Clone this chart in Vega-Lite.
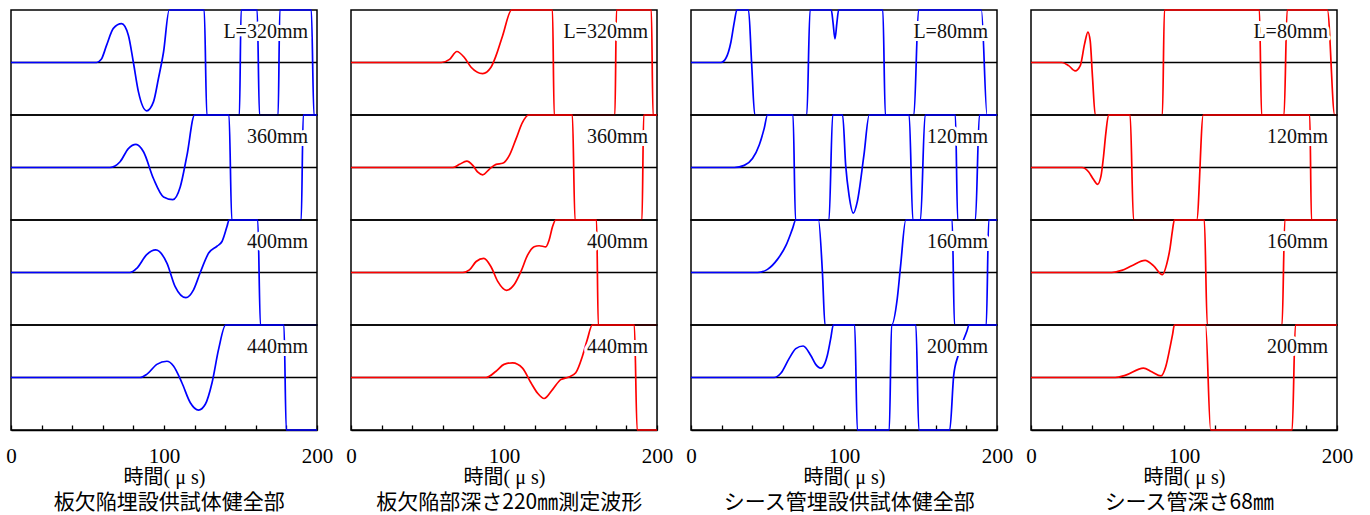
{
"$schema": "https://vega.github.io/schema/vega-lite/v6.json",
"background": "white",
"padding": {"left": 5, "top": 8, "right": 5, "bottom": 5},
"data": {"name": "w"},
"datasets": {"w": [
{"p":1,"b":1,"label":"L=320mm"},{"p":1,"b":2,"label":"360mm"},{"p":1,"b":3,"label":"400mm"},{"p":1,"b":4,"label":"440mm"},
{"p":2,"b":1,"label":"L=320mm"},{"p":2,"b":2,"label":"360mm"},{"p":2,"b":3,"label":"400mm"},{"p":2,"b":4,"label":"440mm"},
{"p":3,"b":1,"label":"L=80mm"},{"p":3,"b":2,"label":"120mm"},{"p":3,"b":3,"label":"160mm"},{"p":3,"b":4,"label":"200mm"},
{"p":4,"b":1,"label":"L=80mm"},{"p":4,"b":2,"label":"120mm"},{"p":4,"b":3,"label":"160mm"},{"p":4,"b":4,"label":"200mm"},
{"p":1,"b":1,"t":0,"v":0},{"p":1,"b":1,"t":56,"v":0},{"p":1,"b":1,"t":59,"v":0.06},{"p":1,"b":1,"t":62.5,"v":0.33},{"p":1,"b":1,"t":66.9,"v":0.65},{"p":1,"b":1,"t":72.3,"v":0.74},{"p":1,"b":1,"t":76.7,"v":0.52},{"p":1,"b":1,"t":80,"v":0},{"p":1,"b":1,"t":83.3,"v":-0.56},{"p":1,"b":1,"t":88.7,"v":-0.92},{"p":1,"b":1,"t":93.1,"v":-0.75},{"p":1,"b":1,"t":96.4,"v":-0.3},{"p":1,"b":1,"t":99.7,"v":0.2},{"p":1,"b":1,"t":103.4,"v":1},{"p":1,"b":1,"t":126.3,"v":1},{"p":1,"b":1,"t":128,"v":-1},{"p":1,"b":1,"t":149.3,"v":-1},{"p":1,"b":1,"t":150.4,"v":1},{"p":1,"b":1,"t":160.9,"v":1},{"p":1,"b":1,"t":162.4,"v":-1},{"p":1,"b":1,"t":174.6,"v":-1},{"p":1,"b":1,"t":175.7,"v":1},{"p":1,"b":1,"t":196.3,"v":1},{"p":1,"b":1,"t":198,"v":-1},{"p":1,"b":1,"t":200,"v":-1},
{"p":1,"b":2,"t":0,"v":0},{"p":1,"b":2,"t":64.7,"v":0},{"p":1,"b":2,"t":68,"v":0.03},{"p":1,"b":2,"t":71.3,"v":0.11},{"p":1,"b":2,"t":76.7,"v":0.36},{"p":1,"b":2,"t":81.7,"v":0.44},{"p":1,"b":2,"t":86.6,"v":0.3},{"p":1,"b":2,"t":93.1,"v":-0.21},{"p":1,"b":2,"t":99.7,"v":-0.56},{"p":1,"b":2,"t":105.8,"v":-0.61},{"p":1,"b":2,"t":110.6,"v":-0.37},{"p":1,"b":2,"t":115,"v":0.23},{"p":1,"b":2,"t":120,"v":1},{"p":1,"b":2,"t":142.5,"v":1},{"p":1,"b":2,"t":144.3,"v":-1},{"p":1,"b":2,"t":189.7,"v":-1},{"p":1,"b":2,"t":191,"v":1},{"p":1,"b":2,"t":200,"v":1},
{"p":1,"b":3,"t":0,"v":0},{"p":1,"b":3,"t":77.8,"v":0},{"p":1,"b":3,"t":82.2,"v":0.08},{"p":1,"b":3,"t":88.7,"v":0.34},{"p":1,"b":3,"t":94.6,"v":0.43},{"p":1,"b":3,"t":101.9,"v":0.18},{"p":1,"b":3,"t":107.3,"v":-0.27},{"p":1,"b":3,"t":114.3,"v":-0.48},{"p":1,"b":3,"t":119.3,"v":-0.33},{"p":1,"b":3,"t":123.7,"v":0},{"p":1,"b":3,"t":129.2,"v":0.37},{"p":1,"b":3,"t":134.6,"v":0.5},{"p":1,"b":3,"t":137.9,"v":0.59},{"p":1,"b":3,"t":141.2,"v":0.88},{"p":1,"b":3,"t":142.5,"v":1},{"p":1,"b":3,"t":161.3,"v":1},{"p":1,"b":3,"t":163,"v":-1},{"p":1,"b":3,"t":200,"v":-1},
{"p":1,"b":4,"t":0,"v":0},{"p":1,"b":4,"t":84.4,"v":0},{"p":1,"b":4,"t":88.7,"v":0.06},{"p":1,"b":4,"t":95.3,"v":0.25},{"p":1,"b":4,"t":101.9,"v":0.31},{"p":1,"b":4,"t":106.2,"v":0.22},{"p":1,"b":4,"t":111.7,"v":-0.1},{"p":1,"b":4,"t":117.2,"v":-0.48},{"p":1,"b":4,"t":122.6,"v":-0.62},{"p":1,"b":4,"t":127,"v":-0.51},{"p":1,"b":4,"t":131.4,"v":-0.1},{"p":1,"b":4,"t":135.7,"v":0.54},{"p":1,"b":4,"t":140.3,"v":1},{"p":1,"b":4,"t":178.4,"v":1},{"p":1,"b":4,"t":179.9,"v":-1},{"p":1,"b":4,"t":200,"v":-1},
{"p":2,"b":1,"t":0,"v":0},{"p":2,"b":1,"t":59,"v":0},{"p":2,"b":1,"t":64.4,"v":0.06},{"p":2,"b":1,"t":69.2,"v":0.21},{"p":2,"b":1,"t":74.2,"v":0.09},{"p":2,"b":1,"t":78.5,"v":-0.09},{"p":2,"b":1,"t":86.1,"v":-0.21},{"p":2,"b":1,"t":91.5,"v":-0.09},{"p":2,"b":1,"t":94.8,"v":0.13},{"p":2,"b":1,"t":99.1,"v":0.51},{"p":2,"b":1,"t":105,"v":1},{"p":2,"b":1,"t":131.7,"v":1},{"p":2,"b":1,"t":132.8,"v":-1},{"p":2,"b":1,"t":172.5,"v":-1},{"p":2,"b":1,"t":173.5,"v":1},{"p":2,"b":1,"t":196.3,"v":1},{"p":2,"b":1,"t":197.4,"v":-1},{"p":2,"b":1,"t":200,"v":-1},
{"p":2,"b":2,"t":0,"v":0},{"p":2,"b":2,"t":66.6,"v":0},{"p":2,"b":2,"t":70.9,"v":0.06},{"p":2,"b":2,"t":75.7,"v":0.12},{"p":2,"b":2,"t":79.6,"v":0.04},{"p":2,"b":2,"t":82.9,"v":-0.09},{"p":2,"b":2,"t":86.1,"v":-0.14},{"p":2,"b":2,"t":90.5,"v":-0.03},{"p":2,"b":2,"t":94.8,"v":0.06},{"p":2,"b":2,"t":99.1,"v":0.08},{"p":2,"b":2,"t":103.5,"v":0.23},{"p":2,"b":2,"t":107.8,"v":0.54},{"p":2,"b":2,"t":112.1,"v":0.86},{"p":2,"b":2,"t":116,"v":1},{"p":2,"b":2,"t":144.7,"v":1},{"p":2,"b":2,"t":146.4,"v":-1},{"p":2,"b":2,"t":190.2,"v":-1},{"p":2,"b":2,"t":191.3,"v":1},{"p":2,"b":2,"t":200,"v":1},
{"p":2,"b":3,"t":0,"v":0},{"p":2,"b":3,"t":73.1,"v":0},{"p":2,"b":3,"t":77.4,"v":0.05},{"p":2,"b":3,"t":81.8,"v":0.21},{"p":2,"b":3,"t":86.8,"v":0.27},{"p":2,"b":3,"t":91.5,"v":0.11},{"p":2,"b":3,"t":95.9,"v":-0.17},{"p":2,"b":3,"t":101.7,"v":-0.34},{"p":2,"b":3,"t":106.7,"v":-0.23},{"p":2,"b":3,"t":111.1,"v":0.02},{"p":2,"b":3,"t":115.4,"v":0.33},{"p":2,"b":3,"t":119.7,"v":0.49},{"p":2,"b":3,"t":123,"v":0.51},{"p":2,"b":3,"t":127.3,"v":0.49},{"p":2,"b":3,"t":129.5,"v":0.62},{"p":2,"b":3,"t":131.7,"v":0.87},{"p":2,"b":3,"t":133.8,"v":1},{"p":2,"b":3,"t":160.5,"v":1},{"p":2,"b":3,"t":161.6,"v":-1},{"p":2,"b":3,"t":200,"v":-1},
{"p":2,"b":4,"t":0,"v":0},{"p":2,"b":4,"t":88.3,"v":0},{"p":2,"b":4,"t":94.8,"v":0.12},{"p":2,"b":4,"t":100,"v":0.25},{"p":2,"b":4,"t":105.6,"v":0.28},{"p":2,"b":4,"t":112.1,"v":0.18},{"p":2,"b":4,"t":117.6,"v":-0.1},{"p":2,"b":4,"t":122,"v":-0.3},{"p":2,"b":4,"t":126.2,"v":-0.4},{"p":2,"b":4,"t":131.7,"v":-0.23},{"p":2,"b":4,"t":137.1,"v":-0.04},{"p":2,"b":4,"t":142.5,"v":0.01},{"p":2,"b":4,"t":146.9,"v":0.09},{"p":2,"b":4,"t":151.2,"v":0.4},{"p":2,"b":4,"t":154.4,"v":0.72},{"p":2,"b":4,"t":157.7,"v":1},{"p":2,"b":4,"t":185.2,"v":1},{"p":2,"b":4,"t":187,"v":-1},{"p":2,"b":4,"t":200,"v":-1},
{"p":3,"b":1,"t":0,"v":0},{"p":3,"b":1,"t":19.6,"v":0},{"p":3,"b":1,"t":22.8,"v":0.08},{"p":3,"b":1,"t":26.1,"v":0.39},{"p":3,"b":1,"t":28.3,"v":0.77},{"p":3,"b":1,"t":30,"v":1},{"p":3,"b":1,"t":37.6,"v":1},{"p":3,"b":1,"t":39.6,"v":0},{"p":3,"b":1,"t":41.7,"v":-1},{"p":3,"b":1,"t":75.7,"v":-1},{"p":3,"b":1,"t":77.8,"v":1},{"p":3,"b":1,"t":91.7,"v":1},{"p":3,"b":1,"t":92.8,"v":0.77},{"p":3,"b":1,"t":94.1,"v":0.45},{"p":3,"b":1,"t":95.4,"v":0.77},{"p":3,"b":1,"t":96.5,"v":1},{"p":3,"b":1,"t":125.4,"v":1},{"p":3,"b":1,"t":127,"v":-1},{"p":3,"b":1,"t":145.7,"v":-1},{"p":3,"b":1,"t":148.7,"v":1},{"p":3,"b":1,"t":189.8,"v":1},{"p":3,"b":1,"t":193.5,"v":-1},{"p":3,"b":1,"t":200,"v":-1},
{"p":3,"b":2,"t":0,"v":0},{"p":3,"b":2,"t":28.3,"v":0},{"p":3,"b":2,"t":34.8,"v":0.04},{"p":3,"b":2,"t":40.2,"v":0.17},{"p":3,"b":2,"t":44.6,"v":0.43},{"p":3,"b":2,"t":47.8,"v":0.74},{"p":3,"b":2,"t":50,"v":1},{"p":3,"b":2,"t":66.7,"v":1},{"p":3,"b":2,"t":68.3,"v":-1},{"p":3,"b":2,"t":90.2,"v":-1},{"p":3,"b":2,"t":92.6,"v":1},{"p":3,"b":2,"t":99.1,"v":1},{"p":3,"b":2,"t":101.1,"v":0.04},{"p":3,"b":2,"t":103.3,"v":-0.53},{"p":3,"b":2,"t":106.1,"v":-0.87},{"p":3,"b":2,"t":108.7,"v":-0.65},{"p":3,"b":2,"t":113,"v":0.23},{"p":3,"b":2,"t":116.5,"v":1},{"p":3,"b":2,"t":142.6,"v":1},{"p":3,"b":2,"t":145,"v":-1},{"p":3,"b":2,"t":150,"v":-1},{"p":3,"b":2,"t":153,"v":1},{"p":3,"b":2,"t":172.8,"v":1},{"p":3,"b":2,"t":174.3,"v":-1},{"p":3,"b":2,"t":185.9,"v":-1},{"p":3,"b":2,"t":188.5,"v":1},{"p":3,"b":2,"t":200,"v":1},
{"p":3,"b":3,"t":0,"v":0},{"p":3,"b":3,"t":43.5,"v":0},{"p":3,"b":3,"t":50,"v":0.06},{"p":3,"b":3,"t":56.5,"v":0.25},{"p":3,"b":3,"t":62,"v":0.51},{"p":3,"b":3,"t":66.3,"v":0.83},{"p":3,"b":3,"t":68.5,"v":1},{"p":3,"b":3,"t":83.3,"v":1},{"p":3,"b":3,"t":85.9,"v":0},{"p":3,"b":3,"t":87.6,"v":-1},{"p":3,"b":3,"t":131.1,"v":-1},{"p":3,"b":3,"t":134.8,"v":-0.5},{"p":3,"b":3,"t":137,"v":0.13},{"p":3,"b":3,"t":140.4,"v":1},{"p":3,"b":3,"t":170.7,"v":1},{"p":3,"b":3,"t":172.2,"v":-1},{"p":3,"b":3,"t":193,"v":-1},{"p":3,"b":3,"t":194.6,"v":1},{"p":3,"b":3,"t":200,"v":1},
{"p":3,"b":4,"t":0,"v":0},{"p":3,"b":4,"t":54.3,"v":0},{"p":3,"b":4,"t":58.7,"v":0.08},{"p":3,"b":4,"t":64.1,"v":0.36},{"p":3,"b":4,"t":68.5,"v":0.55},{"p":3,"b":4,"t":73.3,"v":0.6},{"p":3,"b":4,"t":78.3,"v":0.42},{"p":3,"b":4,"t":81.5,"v":0.25},{"p":3,"b":4,"t":84.8,"v":0.18},{"p":3,"b":4,"t":87.5,"v":0.27},{"p":3,"b":4,"t":89.1,"v":0.42},{"p":3,"b":4,"t":91.3,"v":0.74},{"p":3,"b":4,"t":93,"v":1},{"p":3,"b":4,"t":107,"v":1},{"p":3,"b":4,"t":108.7,"v":-1},{"p":3,"b":4,"t":129.6,"v":-1},{"p":3,"b":4,"t":131.1,"v":1},{"p":3,"b":4,"t":147,"v":1},{"p":3,"b":4,"t":148.9,"v":-1},{"p":3,"b":4,"t":169.1,"v":-1},{"p":3,"b":4,"t":171.7,"v":0.04},{"p":3,"b":4,"t":174.6,"v":0.42},{"p":3,"b":4,"t":180.4,"v":0.89},{"p":3,"b":4,"t":181.7,"v":1},{"p":3,"b":4,"t":200,"v":1},
{"p":4,"b":1,"t":0,"v":0},{"p":4,"b":1,"t":20.2,"v":0},{"p":4,"b":1,"t":24.6,"v":-0.06},{"p":4,"b":1,"t":28.9,"v":-0.16},{"p":4,"b":1,"t":32.2,"v":-0.06},{"p":4,"b":1,"t":35,"v":0.35},{"p":4,"b":1,"t":37.2,"v":0.58},{"p":4,"b":1,"t":38.7,"v":0.41},{"p":4,"b":1,"t":40.2,"v":-0.28},{"p":4,"b":1,"t":42,"v":-1},{"p":4,"b":1,"t":85.9,"v":-1},{"p":4,"b":1,"t":87.2,"v":1},{"p":4,"b":1,"t":149.3,"v":1},{"p":4,"b":1,"t":150.7,"v":-1},{"p":4,"b":1,"t":165.4,"v":-1},{"p":4,"b":1,"t":167.4,"v":1},{"p":4,"b":1,"t":193.7,"v":1},{"p":4,"b":1,"t":198.5,"v":-1},{"p":4,"b":1,"t":200,"v":-1},
{"p":4,"b":2,"t":0,"v":0},{"p":4,"b":2,"t":33.3,"v":0},{"p":4,"b":2,"t":37.6,"v":-0.08},{"p":4,"b":2,"t":40.9,"v":-0.23},{"p":4,"b":2,"t":43.5,"v":-0.32},{"p":4,"b":2,"t":45.7,"v":-0.17},{"p":4,"b":2,"t":47.4,"v":0.21},{"p":4,"b":2,"t":48.9,"v":0.65},{"p":4,"b":2,"t":50.7,"v":1},{"p":4,"b":2,"t":64.8,"v":1},{"p":4,"b":2,"t":67,"v":-1},{"p":4,"b":2,"t":108.3,"v":-1},{"p":4,"b":2,"t":112.6,"v":1},{"p":4,"b":2,"t":182.2,"v":1},{"p":4,"b":2,"t":183.3,"v":-1},{"p":4,"b":2,"t":200,"v":-1},
{"p":4,"b":3,"t":0,"v":0},{"p":4,"b":3,"t":52.8,"v":0},{"p":4,"b":3,"t":59.3,"v":0.04},{"p":4,"b":3,"t":65.9,"v":0.13},{"p":4,"b":3,"t":74.6,"v":0.23},{"p":4,"b":3,"t":80,"v":0.13},{"p":4,"b":3,"t":85.9,"v":-0.04},{"p":4,"b":3,"t":88.7,"v":0.16},{"p":4,"b":3,"t":90.9,"v":0.47},{"p":4,"b":3,"t":92.4,"v":0.79},{"p":4,"b":3,"t":93.7,"v":1},{"p":4,"b":3,"t":113.3,"v":1},{"p":4,"b":3,"t":115.2,"v":-1},{"p":4,"b":3,"t":164.1,"v":-1},{"p":4,"b":3,"t":165.9,"v":1},{"p":4,"b":3,"t":200,"v":1},
{"p":4,"b":4,"t":0,"v":0},{"p":4,"b":4,"t":55,"v":0},{"p":4,"b":4,"t":61.5,"v":0.04},{"p":4,"b":4,"t":73.5,"v":0.18},{"p":4,"b":4,"t":78.9,"v":0.11},{"p":4,"b":4,"t":85,"v":0.03},{"p":4,"b":4,"t":88,"v":0.2},{"p":4,"b":4,"t":90.9,"v":0.58},{"p":4,"b":4,"t":92.6,"v":0.83},{"p":4,"b":4,"t":93.7,"v":1},{"p":4,"b":4,"t":114.1,"v":1},{"p":4,"b":4,"t":117.4,"v":-1},{"p":4,"b":4,"t":170.7,"v":-1},{"p":4,"b":4,"t":172.8,"v":1},{"p":4,"b":4,"t":200,"v":1}
]},
"spacing": 11,
"hconcat": [
{"title": "板欠陥埋設供試体健全部", "spacing": 0, "bounds": "flush", "vconcat": [
 {"width": 306, "height": 105, "transform": [{"filter": "datum.p == 1 && datum.b == 1"}], "layer": [
  {"transform": [{"filter": "datum.label"}], "mark": {"type": "rule", "color": "black", "strokeWidth": 1.3}, "encoding": {"y": {"datum": 0, "type": "quantitative", "scale": {"domain": [-1, 1], "nice": false}, "axis": null}}},
  {"transform": [{"filter": "datum.label == null"}], "mark": {"type": "line", "color": "#0000ff", "strokeWidth": 1.7, "strokeJoin": "round", "interpolate": "monotone"}, "encoding": {"x": {"field": "t", "type": "quantitative", "scale": {"domain": [0, 200], "nice": false}, "axis": null}, "y": {"field": "v", "type": "quantitative", "axis": null}}},
  {"transform": [{"filter": "datum.label"}], "mark": {"type": "text", "align": "right", "baseline": "middle", "dx": -9, "dy": 22, "font": "Liberation Serif", "fontSize": 20, "stroke": "white", "strokeWidth": 6, "strokeJoin": "round", "fill": "white"}, "encoding": {"x": {"datum": 200, "type": "quantitative", "axis": null}, "y": {"datum": 1, "type": "quantitative", "axis": null}, "text": {"field": "label"}}},
  {"transform": [{"filter": "datum.label"}], "mark": {"type": "text", "align": "right", "baseline": "middle", "dx": -9, "dy": 22, "font": "Liberation Serif", "fontSize": 20, "color": "#111111"}, "encoding": {"x": {"datum": 200, "type": "quantitative", "axis": null}, "y": {"datum": 1, "type": "quantitative", "axis": null}, "text": {"field": "label"}}}]},
 {"width": 306, "height": 105, "transform": [{"filter": "datum.p == 1 && datum.b == 2"}], "layer": [
  {"transform": [{"filter": "datum.label"}], "mark": {"type": "rule", "color": "black", "strokeWidth": 1.3}, "encoding": {"y": {"datum": 0, "type": "quantitative", "scale": {"domain": [-1, 1], "nice": false}, "axis": null}}},
  {"transform": [{"filter": "datum.label == null"}], "mark": {"type": "line", "color": "#0000ff", "strokeWidth": 1.7, "strokeJoin": "round", "interpolate": "monotone"}, "encoding": {"x": {"field": "t", "type": "quantitative", "scale": {"domain": [0, 200], "nice": false}, "axis": null}, "y": {"field": "v", "type": "quantitative", "axis": null}}},
  {"transform": [{"filter": "datum.label"}], "mark": {"type": "text", "align": "right", "baseline": "middle", "dx": -9, "dy": 22, "font": "Liberation Serif", "fontSize": 20, "stroke": "white", "strokeWidth": 6, "strokeJoin": "round", "fill": "white"}, "encoding": {"x": {"datum": 200, "type": "quantitative", "axis": null}, "y": {"datum": 1, "type": "quantitative", "axis": null}, "text": {"field": "label"}}},
  {"transform": [{"filter": "datum.label"}], "mark": {"type": "text", "align": "right", "baseline": "middle", "dx": -9, "dy": 22, "font": "Liberation Serif", "fontSize": 20, "color": "#111111"}, "encoding": {"x": {"datum": 200, "type": "quantitative", "axis": null}, "y": {"datum": 1, "type": "quantitative", "axis": null}, "text": {"field": "label"}}}]},
 {"width": 306, "height": 105, "transform": [{"filter": "datum.p == 1 && datum.b == 3"}], "layer": [
  {"transform": [{"filter": "datum.label"}], "mark": {"type": "rule", "color": "black", "strokeWidth": 1.3}, "encoding": {"y": {"datum": 0, "type": "quantitative", "scale": {"domain": [-1, 1], "nice": false}, "axis": null}}},
  {"transform": [{"filter": "datum.label == null"}], "mark": {"type": "line", "color": "#0000ff", "strokeWidth": 1.7, "strokeJoin": "round", "interpolate": "monotone"}, "encoding": {"x": {"field": "t", "type": "quantitative", "scale": {"domain": [0, 200], "nice": false}, "axis": null}, "y": {"field": "v", "type": "quantitative", "axis": null}}},
  {"transform": [{"filter": "datum.label"}], "mark": {"type": "text", "align": "right", "baseline": "middle", "dx": -9, "dy": 22, "font": "Liberation Serif", "fontSize": 20, "stroke": "white", "strokeWidth": 6, "strokeJoin": "round", "fill": "white"}, "encoding": {"x": {"datum": 200, "type": "quantitative", "axis": null}, "y": {"datum": 1, "type": "quantitative", "axis": null}, "text": {"field": "label"}}},
  {"transform": [{"filter": "datum.label"}], "mark": {"type": "text", "align": "right", "baseline": "middle", "dx": -9, "dy": 22, "font": "Liberation Serif", "fontSize": 20, "color": "#111111"}, "encoding": {"x": {"datum": 200, "type": "quantitative", "axis": null}, "y": {"datum": 1, "type": "quantitative", "axis": null}, "text": {"field": "label"}}}]},
 {"width": 306, "height": 105, "transform": [{"filter": "datum.p == 1 && datum.b == 4"}], "layer": [
  {"transform": [{"filter": "datum.label"}], "mark": {"type": "rule", "color": "black", "strokeWidth": 1.3}, "encoding": {"y": {"datum": 0, "type": "quantitative", "scale": {"domain": [-1, 1], "nice": false}, "axis": null}}},
  {"transform": [{"filter": "datum.label == null"}], "mark": {"type": "line", "color": "#0000ff", "strokeWidth": 1.7, "strokeJoin": "round", "interpolate": "monotone"}, "encoding": {"x": {"field": "t", "type": "quantitative", "scale": {"domain": [0, 200], "nice": false}, "axis": {"title": "時間( μ s)"}}, "y": {"field": "v", "type": "quantitative", "axis": null}}},
  {"transform": [{"filter": "datum.label"}], "mark": {"type": "text", "align": "right", "baseline": "middle", "dx": -9, "dy": 22, "font": "Liberation Serif", "fontSize": 20, "stroke": "white", "strokeWidth": 6, "strokeJoin": "round", "fill": "white"}, "encoding": {"x": {"datum": 200, "type": "quantitative"}, "y": {"datum": 1, "type": "quantitative", "axis": null}, "text": {"field": "label"}}},
  {"transform": [{"filter": "datum.label"}], "mark": {"type": "text", "align": "right", "baseline": "middle", "dx": -9, "dy": 22, "font": "Liberation Serif", "fontSize": 20, "color": "#111111"}, "encoding": {"x": {"datum": 200, "type": "quantitative"}, "y": {"datum": 1, "type": "quantitative", "axis": null}, "text": {"field": "label"}}}]}
]},
{"title": "板欠陥部深さ220㎜測定波形", "spacing": 0, "bounds": "flush", "vconcat": [
 {"width": 306, "height": 105, "transform": [{"filter": "datum.p == 2 && datum.b == 1"}], "layer": [
  {"transform": [{"filter": "datum.label"}], "mark": {"type": "rule", "color": "black", "strokeWidth": 1.3}, "encoding": {"y": {"datum": 0, "type": "quantitative", "scale": {"domain": [-1, 1], "nice": false}, "axis": null}}},
  {"transform": [{"filter": "datum.label == null"}], "mark": {"type": "line", "color": "#ff0000", "strokeWidth": 1.7, "strokeJoin": "round", "interpolate": "monotone"}, "encoding": {"x": {"field": "t", "type": "quantitative", "scale": {"domain": [0, 200], "nice": false}, "axis": null}, "y": {"field": "v", "type": "quantitative", "axis": null}}},
  {"transform": [{"filter": "datum.label"}], "mark": {"type": "text", "align": "right", "baseline": "middle", "dx": -9, "dy": 22, "font": "Liberation Serif", "fontSize": 20, "stroke": "white", "strokeWidth": 6, "strokeJoin": "round", "fill": "white"}, "encoding": {"x": {"datum": 200, "type": "quantitative", "axis": null}, "y": {"datum": 1, "type": "quantitative", "axis": null}, "text": {"field": "label"}}},
  {"transform": [{"filter": "datum.label"}], "mark": {"type": "text", "align": "right", "baseline": "middle", "dx": -9, "dy": 22, "font": "Liberation Serif", "fontSize": 20, "color": "#111111"}, "encoding": {"x": {"datum": 200, "type": "quantitative", "axis": null}, "y": {"datum": 1, "type": "quantitative", "axis": null}, "text": {"field": "label"}}}]},
 {"width": 306, "height": 105, "transform": [{"filter": "datum.p == 2 && datum.b == 2"}], "layer": [
  {"transform": [{"filter": "datum.label"}], "mark": {"type": "rule", "color": "black", "strokeWidth": 1.3}, "encoding": {"y": {"datum": 0, "type": "quantitative", "scale": {"domain": [-1, 1], "nice": false}, "axis": null}}},
  {"transform": [{"filter": "datum.label == null"}], "mark": {"type": "line", "color": "#ff0000", "strokeWidth": 1.7, "strokeJoin": "round", "interpolate": "monotone"}, "encoding": {"x": {"field": "t", "type": "quantitative", "scale": {"domain": [0, 200], "nice": false}, "axis": null}, "y": {"field": "v", "type": "quantitative", "axis": null}}},
  {"transform": [{"filter": "datum.label"}], "mark": {"type": "text", "align": "right", "baseline": "middle", "dx": -9, "dy": 22, "font": "Liberation Serif", "fontSize": 20, "stroke": "white", "strokeWidth": 6, "strokeJoin": "round", "fill": "white"}, "encoding": {"x": {"datum": 200, "type": "quantitative", "axis": null}, "y": {"datum": 1, "type": "quantitative", "axis": null}, "text": {"field": "label"}}},
  {"transform": [{"filter": "datum.label"}], "mark": {"type": "text", "align": "right", "baseline": "middle", "dx": -9, "dy": 22, "font": "Liberation Serif", "fontSize": 20, "color": "#111111"}, "encoding": {"x": {"datum": 200, "type": "quantitative", "axis": null}, "y": {"datum": 1, "type": "quantitative", "axis": null}, "text": {"field": "label"}}}]},
 {"width": 306, "height": 105, "transform": [{"filter": "datum.p == 2 && datum.b == 3"}], "layer": [
  {"transform": [{"filter": "datum.label"}], "mark": {"type": "rule", "color": "black", "strokeWidth": 1.3}, "encoding": {"y": {"datum": 0, "type": "quantitative", "scale": {"domain": [-1, 1], "nice": false}, "axis": null}}},
  {"transform": [{"filter": "datum.label == null"}], "mark": {"type": "line", "color": "#ff0000", "strokeWidth": 1.7, "strokeJoin": "round", "interpolate": "monotone"}, "encoding": {"x": {"field": "t", "type": "quantitative", "scale": {"domain": [0, 200], "nice": false}, "axis": null}, "y": {"field": "v", "type": "quantitative", "axis": null}}},
  {"transform": [{"filter": "datum.label"}], "mark": {"type": "text", "align": "right", "baseline": "middle", "dx": -9, "dy": 22, "font": "Liberation Serif", "fontSize": 20, "stroke": "white", "strokeWidth": 6, "strokeJoin": "round", "fill": "white"}, "encoding": {"x": {"datum": 200, "type": "quantitative", "axis": null}, "y": {"datum": 1, "type": "quantitative", "axis": null}, "text": {"field": "label"}}},
  {"transform": [{"filter": "datum.label"}], "mark": {"type": "text", "align": "right", "baseline": "middle", "dx": -9, "dy": 22, "font": "Liberation Serif", "fontSize": 20, "color": "#111111"}, "encoding": {"x": {"datum": 200, "type": "quantitative", "axis": null}, "y": {"datum": 1, "type": "quantitative", "axis": null}, "text": {"field": "label"}}}]},
 {"width": 306, "height": 105, "transform": [{"filter": "datum.p == 2 && datum.b == 4"}], "layer": [
  {"transform": [{"filter": "datum.label"}], "mark": {"type": "rule", "color": "black", "strokeWidth": 1.3}, "encoding": {"y": {"datum": 0, "type": "quantitative", "scale": {"domain": [-1, 1], "nice": false}, "axis": null}}},
  {"transform": [{"filter": "datum.label == null"}], "mark": {"type": "line", "color": "#ff0000", "strokeWidth": 1.7, "strokeJoin": "round", "interpolate": "monotone"}, "encoding": {"x": {"field": "t", "type": "quantitative", "scale": {"domain": [0, 200], "nice": false}, "axis": {"title": "時間( μ s)"}}, "y": {"field": "v", "type": "quantitative", "axis": null}}},
  {"transform": [{"filter": "datum.label"}], "mark": {"type": "text", "align": "right", "baseline": "middle", "dx": -9, "dy": 22, "font": "Liberation Serif", "fontSize": 20, "stroke": "white", "strokeWidth": 6, "strokeJoin": "round", "fill": "white"}, "encoding": {"x": {"datum": 200, "type": "quantitative"}, "y": {"datum": 1, "type": "quantitative", "axis": null}, "text": {"field": "label"}}},
  {"transform": [{"filter": "datum.label"}], "mark": {"type": "text", "align": "right", "baseline": "middle", "dx": -9, "dy": 22, "font": "Liberation Serif", "fontSize": 20, "color": "#111111"}, "encoding": {"x": {"datum": 200, "type": "quantitative"}, "y": {"datum": 1, "type": "quantitative", "axis": null}, "text": {"field": "label"}}}]}
]},
{"title": "シース管埋設供試体健全部", "spacing": 0, "bounds": "flush", "vconcat": [
 {"width": 306, "height": 105, "transform": [{"filter": "datum.p == 3 && datum.b == 1"}], "layer": [
  {"transform": [{"filter": "datum.label"}], "mark": {"type": "rule", "color": "black", "strokeWidth": 1.3}, "encoding": {"y": {"datum": 0, "type": "quantitative", "scale": {"domain": [-1, 1], "nice": false}, "axis": null}}},
  {"transform": [{"filter": "datum.label == null"}], "mark": {"type": "line", "color": "#0000ff", "strokeWidth": 1.7, "strokeJoin": "round", "interpolate": "monotone"}, "encoding": {"x": {"field": "t", "type": "quantitative", "scale": {"domain": [0, 200], "nice": false}, "axis": null}, "y": {"field": "v", "type": "quantitative", "axis": null}}},
  {"transform": [{"filter": "datum.label"}], "mark": {"type": "text", "align": "right", "baseline": "middle", "dx": -9, "dy": 22, "font": "Liberation Serif", "fontSize": 20, "stroke": "white", "strokeWidth": 6, "strokeJoin": "round", "fill": "white"}, "encoding": {"x": {"datum": 200, "type": "quantitative", "axis": null}, "y": {"datum": 1, "type": "quantitative", "axis": null}, "text": {"field": "label"}}},
  {"transform": [{"filter": "datum.label"}], "mark": {"type": "text", "align": "right", "baseline": "middle", "dx": -9, "dy": 22, "font": "Liberation Serif", "fontSize": 20, "color": "#111111"}, "encoding": {"x": {"datum": 200, "type": "quantitative", "axis": null}, "y": {"datum": 1, "type": "quantitative", "axis": null}, "text": {"field": "label"}}}]},
 {"width": 306, "height": 105, "transform": [{"filter": "datum.p == 3 && datum.b == 2"}], "layer": [
  {"transform": [{"filter": "datum.label"}], "mark": {"type": "rule", "color": "black", "strokeWidth": 1.3}, "encoding": {"y": {"datum": 0, "type": "quantitative", "scale": {"domain": [-1, 1], "nice": false}, "axis": null}}},
  {"transform": [{"filter": "datum.label == null"}], "mark": {"type": "line", "color": "#0000ff", "strokeWidth": 1.7, "strokeJoin": "round", "interpolate": "monotone"}, "encoding": {"x": {"field": "t", "type": "quantitative", "scale": {"domain": [0, 200], "nice": false}, "axis": null}, "y": {"field": "v", "type": "quantitative", "axis": null}}},
  {"transform": [{"filter": "datum.label"}], "mark": {"type": "text", "align": "right", "baseline": "middle", "dx": -9, "dy": 22, "font": "Liberation Serif", "fontSize": 20, "stroke": "white", "strokeWidth": 6, "strokeJoin": "round", "fill": "white"}, "encoding": {"x": {"datum": 200, "type": "quantitative", "axis": null}, "y": {"datum": 1, "type": "quantitative", "axis": null}, "text": {"field": "label"}}},
  {"transform": [{"filter": "datum.label"}], "mark": {"type": "text", "align": "right", "baseline": "middle", "dx": -9, "dy": 22, "font": "Liberation Serif", "fontSize": 20, "color": "#111111"}, "encoding": {"x": {"datum": 200, "type": "quantitative", "axis": null}, "y": {"datum": 1, "type": "quantitative", "axis": null}, "text": {"field": "label"}}}]},
 {"width": 306, "height": 105, "transform": [{"filter": "datum.p == 3 && datum.b == 3"}], "layer": [
  {"transform": [{"filter": "datum.label"}], "mark": {"type": "rule", "color": "black", "strokeWidth": 1.3}, "encoding": {"y": {"datum": 0, "type": "quantitative", "scale": {"domain": [-1, 1], "nice": false}, "axis": null}}},
  {"transform": [{"filter": "datum.label == null"}], "mark": {"type": "line", "color": "#0000ff", "strokeWidth": 1.7, "strokeJoin": "round", "interpolate": "monotone"}, "encoding": {"x": {"field": "t", "type": "quantitative", "scale": {"domain": [0, 200], "nice": false}, "axis": null}, "y": {"field": "v", "type": "quantitative", "axis": null}}},
  {"transform": [{"filter": "datum.label"}], "mark": {"type": "text", "align": "right", "baseline": "middle", "dx": -9, "dy": 22, "font": "Liberation Serif", "fontSize": 20, "stroke": "white", "strokeWidth": 6, "strokeJoin": "round", "fill": "white"}, "encoding": {"x": {"datum": 200, "type": "quantitative", "axis": null}, "y": {"datum": 1, "type": "quantitative", "axis": null}, "text": {"field": "label"}}},
  {"transform": [{"filter": "datum.label"}], "mark": {"type": "text", "align": "right", "baseline": "middle", "dx": -9, "dy": 22, "font": "Liberation Serif", "fontSize": 20, "color": "#111111"}, "encoding": {"x": {"datum": 200, "type": "quantitative", "axis": null}, "y": {"datum": 1, "type": "quantitative", "axis": null}, "text": {"field": "label"}}}]},
 {"width": 306, "height": 105, "transform": [{"filter": "datum.p == 3 && datum.b == 4"}], "layer": [
  {"transform": [{"filter": "datum.label"}], "mark": {"type": "rule", "color": "black", "strokeWidth": 1.3}, "encoding": {"y": {"datum": 0, "type": "quantitative", "scale": {"domain": [-1, 1], "nice": false}, "axis": null}}},
  {"transform": [{"filter": "datum.label == null"}], "mark": {"type": "line", "color": "#0000ff", "strokeWidth": 1.7, "strokeJoin": "round", "interpolate": "monotone"}, "encoding": {"x": {"field": "t", "type": "quantitative", "scale": {"domain": [0, 200], "nice": false}, "axis": {"title": "時間( μ s)"}}, "y": {"field": "v", "type": "quantitative", "axis": null}}},
  {"transform": [{"filter": "datum.label"}], "mark": {"type": "text", "align": "right", "baseline": "middle", "dx": -9, "dy": 22, "font": "Liberation Serif", "fontSize": 20, "stroke": "white", "strokeWidth": 6, "strokeJoin": "round", "fill": "white"}, "encoding": {"x": {"datum": 200, "type": "quantitative"}, "y": {"datum": 1, "type": "quantitative", "axis": null}, "text": {"field": "label"}}},
  {"transform": [{"filter": "datum.label"}], "mark": {"type": "text", "align": "right", "baseline": "middle", "dx": -9, "dy": 22, "font": "Liberation Serif", "fontSize": 20, "color": "#111111"}, "encoding": {"x": {"datum": 200, "type": "quantitative"}, "y": {"datum": 1, "type": "quantitative", "axis": null}, "text": {"field": "label"}}}]}
]},
{"title": "シース管深さ68㎜", "spacing": 0, "bounds": "flush", "vconcat": [
 {"width": 306, "height": 105, "transform": [{"filter": "datum.p == 4 && datum.b == 1"}], "layer": [
  {"transform": [{"filter": "datum.label"}], "mark": {"type": "rule", "color": "black", "strokeWidth": 1.3}, "encoding": {"y": {"datum": 0, "type": "quantitative", "scale": {"domain": [-1, 1], "nice": false}, "axis": null}}},
  {"transform": [{"filter": "datum.label == null"}], "mark": {"type": "line", "color": "#ff0000", "strokeWidth": 1.7, "strokeJoin": "round", "interpolate": "monotone"}, "encoding": {"x": {"field": "t", "type": "quantitative", "scale": {"domain": [0, 200], "nice": false}, "axis": null}, "y": {"field": "v", "type": "quantitative", "axis": null}}},
  {"transform": [{"filter": "datum.label"}], "mark": {"type": "text", "align": "right", "baseline": "middle", "dx": -9, "dy": 22, "font": "Liberation Serif", "fontSize": 20, "stroke": "white", "strokeWidth": 6, "strokeJoin": "round", "fill": "white"}, "encoding": {"x": {"datum": 200, "type": "quantitative", "axis": null}, "y": {"datum": 1, "type": "quantitative", "axis": null}, "text": {"field": "label"}}},
  {"transform": [{"filter": "datum.label"}], "mark": {"type": "text", "align": "right", "baseline": "middle", "dx": -9, "dy": 22, "font": "Liberation Serif", "fontSize": 20, "color": "#111111"}, "encoding": {"x": {"datum": 200, "type": "quantitative", "axis": null}, "y": {"datum": 1, "type": "quantitative", "axis": null}, "text": {"field": "label"}}}]},
 {"width": 306, "height": 105, "transform": [{"filter": "datum.p == 4 && datum.b == 2"}], "layer": [
  {"transform": [{"filter": "datum.label"}], "mark": {"type": "rule", "color": "black", "strokeWidth": 1.3}, "encoding": {"y": {"datum": 0, "type": "quantitative", "scale": {"domain": [-1, 1], "nice": false}, "axis": null}}},
  {"transform": [{"filter": "datum.label == null"}], "mark": {"type": "line", "color": "#ff0000", "strokeWidth": 1.7, "strokeJoin": "round", "interpolate": "monotone"}, "encoding": {"x": {"field": "t", "type": "quantitative", "scale": {"domain": [0, 200], "nice": false}, "axis": null}, "y": {"field": "v", "type": "quantitative", "axis": null}}},
  {"transform": [{"filter": "datum.label"}], "mark": {"type": "text", "align": "right", "baseline": "middle", "dx": -9, "dy": 22, "font": "Liberation Serif", "fontSize": 20, "stroke": "white", "strokeWidth": 6, "strokeJoin": "round", "fill": "white"}, "encoding": {"x": {"datum": 200, "type": "quantitative", "axis": null}, "y": {"datum": 1, "type": "quantitative", "axis": null}, "text": {"field": "label"}}},
  {"transform": [{"filter": "datum.label"}], "mark": {"type": "text", "align": "right", "baseline": "middle", "dx": -9, "dy": 22, "font": "Liberation Serif", "fontSize": 20, "color": "#111111"}, "encoding": {"x": {"datum": 200, "type": "quantitative", "axis": null}, "y": {"datum": 1, "type": "quantitative", "axis": null}, "text": {"field": "label"}}}]},
 {"width": 306, "height": 105, "transform": [{"filter": "datum.p == 4 && datum.b == 3"}], "layer": [
  {"transform": [{"filter": "datum.label"}], "mark": {"type": "rule", "color": "black", "strokeWidth": 1.3}, "encoding": {"y": {"datum": 0, "type": "quantitative", "scale": {"domain": [-1, 1], "nice": false}, "axis": null}}},
  {"transform": [{"filter": "datum.label == null"}], "mark": {"type": "line", "color": "#ff0000", "strokeWidth": 1.7, "strokeJoin": "round", "interpolate": "monotone"}, "encoding": {"x": {"field": "t", "type": "quantitative", "scale": {"domain": [0, 200], "nice": false}, "axis": null}, "y": {"field": "v", "type": "quantitative", "axis": null}}},
  {"transform": [{"filter": "datum.label"}], "mark": {"type": "text", "align": "right", "baseline": "middle", "dx": -9, "dy": 22, "font": "Liberation Serif", "fontSize": 20, "stroke": "white", "strokeWidth": 6, "strokeJoin": "round", "fill": "white"}, "encoding": {"x": {"datum": 200, "type": "quantitative", "axis": null}, "y": {"datum": 1, "type": "quantitative", "axis": null}, "text": {"field": "label"}}},
  {"transform": [{"filter": "datum.label"}], "mark": {"type": "text", "align": "right", "baseline": "middle", "dx": -9, "dy": 22, "font": "Liberation Serif", "fontSize": 20, "color": "#111111"}, "encoding": {"x": {"datum": 200, "type": "quantitative", "axis": null}, "y": {"datum": 1, "type": "quantitative", "axis": null}, "text": {"field": "label"}}}]},
 {"width": 306, "height": 105, "transform": [{"filter": "datum.p == 4 && datum.b == 4"}], "layer": [
  {"transform": [{"filter": "datum.label"}], "mark": {"type": "rule", "color": "black", "strokeWidth": 1.3}, "encoding": {"y": {"datum": 0, "type": "quantitative", "scale": {"domain": [-1, 1], "nice": false}, "axis": null}}},
  {"transform": [{"filter": "datum.label == null"}], "mark": {"type": "line", "color": "#ff0000", "strokeWidth": 1.7, "strokeJoin": "round", "interpolate": "monotone"}, "encoding": {"x": {"field": "t", "type": "quantitative", "scale": {"domain": [0, 200], "nice": false}, "axis": {"title": "時間( μ s)"}}, "y": {"field": "v", "type": "quantitative", "axis": null}}},
  {"transform": [{"filter": "datum.label"}], "mark": {"type": "text", "align": "right", "baseline": "middle", "dx": -9, "dy": 22, "font": "Liberation Serif", "fontSize": 20, "stroke": "white", "strokeWidth": 6, "strokeJoin": "round", "fill": "white"}, "encoding": {"x": {"datum": 200, "type": "quantitative"}, "y": {"datum": 1, "type": "quantitative", "axis": null}, "text": {"field": "label"}}},
  {"transform": [{"filter": "datum.label"}], "mark": {"type": "text", "align": "right", "baseline": "middle", "dx": -9, "dy": 22, "font": "Liberation Serif", "fontSize": 20, "color": "#111111"}, "encoding": {"x": {"datum": 200, "type": "quantitative"}, "y": {"datum": 1, "type": "quantitative", "axis": null}, "text": {"field": "label"}}}]}
]}
],
"config": {
 "view": {"stroke": "black", "strokeWidth": 1.5},
 "axisX": {"values": [0, 50, 100, 150, 200], "labelExpr": "datum.value % 100 === 0 ? datum.label : ''", "tickSize": -5, "tickColor": "black", "tickWidth": 1.3, "domainColor": "black", "domainWidth": 1.5, "grid": false, "labelFont": "Liberation Serif", "labelFontSize": 21, "labelColor": "black", "labelPadding": 20, "labelFlush": false, "labelOverlap": false, "labelBound": false, "titleFont": "Liberation Serif, Noto Sans CJK JP", "titleFontSize": 20, "titleFontWeight": "normal", "titleColor": "black", "titlePadding": 1},
 "title": {"orient": "bottom", "font": "Noto Sans CJK JP", "fontSize": 21, "fontWeight": "normal", "color": "black", "offset": 0, "anchor": "middle"}
}
}
